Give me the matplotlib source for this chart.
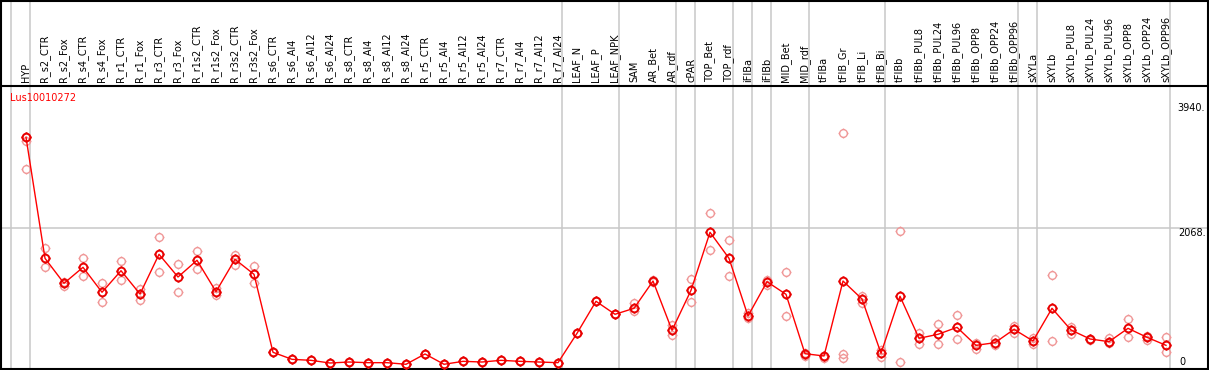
import numpy as np
import matplotlib
matplotlib.use("Agg")
import matplotlib.pyplot as plt
from matplotlib.path import Path

labels = ["HYP", "R_s2_CTR", "R_s2_Fox", "R_s4_CTR", "R_s4_Fox", "R_r1_CTR", "R_r1_Fox",
          "R_r3_CTR", "R_r3_Fox", "R_r1s2_CTR", "R_r1s2_Fox", "R_r3s2_CTR", "R_r3s2_Fox",
          "R_s6_CTR", "R_s6_Al4", "R_s6_Al12", "R_s6_Al24", "R_s8_CTR", "R_s8_Al4",
          "R_s8_Al12", "R_s8_Al24", "R_r5_CTR", "R_r5_Al4", "R_r5_Al12", "R_r5_Al24",
          "R_r7_CTR", "R_r7_Al4", "R_r7_Al12", "R_r7_Al24", "LEAF_N", "LEAF_P", "LEAF_NPK",
          "SAM", "AR_Bet", "AR_rdf", "cPAR", "TOP_Bet", "TOP_rdf", "iFIBa", "iFIBb",
          "MID_Bet", "MID_rdf", "tFIBa", "tFIB_Gr", "tFIB_Li", "tFIB_Bi", "tFIBb",
          "tFIBb_PUL8", "tFIBb_PUL24", "tFIBb_PUL96", "tFIBb_OPP8", "tFIBb_OPP24",
          "tFIBb_OPP96", "sXYLa", "sXYLb", "sXYLb_PUL8", "sXYLb_PUL24", "sXYLb_PUL96",
          "sXYLb_OPP8", "sXYLb_OPP24", "sXYLb_OPP96"]

mean = [3427, 1619, 1246, 1485, 1112, 1434, 1086, 1679, 1340, 1590, 1121, 1604, 1380,
        215, 110, 95, 55, 70, 60, 60, 36, 190, 36, 80, 70, 95, 80, 70, 60,
        499, 977, 783, 872, 1280, 544, 1141, 2008, 1619, 757, 1270, 1081, 194, 160,
        1280, 1011, 200, 1052, 424, 484, 588, 319, 359, 558, 384, 872, 548, 414, 374,
        573, 439, 319]

rep_a = [3427, 1769, 1260, 1619, 1246, 1575, 1161, 1933, 1539, 1729, 1180, 1669, 1504,
         215, 110, 95, 55, 70, 60, 60, 36, 190, 36, 80, 70, 95, 80, 70, 60,
         499, 977, 783, 956, 1290, 623, 1306, 2292, 1888, 807, 1295, 1410, 200, 160,
         3491, 1056, 249, 2023, 508, 633, 768, 359, 414, 613, 424, 1370, 598, 414, 424,
         708, 459, 444]
rep_b = [3376, 1489, 1210, 1355, 971, 1291, 997, 1419, 1112, 1455, 1071, 1519, 1255,
         215, 110, 95, 55, 70, 60, 60, 36, 190, 36, 80, 70, 95, 80, 70, 60,
         499, 977, 783, 837, 1270, 474, 962, 1739, 1350, 723, 1221, 757, 160, 135,
         194, 947, 150, 75, 344, 334, 414, 269, 324, 499, 334, 384, 484, 400, 349,
         448, 399, 215]
rep_c = [2954, None, None, None, None, None, None, None, None, None, None, None, None,
         None, None, None, None, None, None, None, None, None, None, None, None,
         None, None, None, None, None, None, None, None, None, None, None, None, None,
         None, None, None, None, None, 125, None, None, None, None, None, None, None,
         None, None, None, None, None, None, None, None, None, None]

group_ends = [-1, 0, 28, 31, 34, 35, 37, 38, 39, 41, 45, 52, 53, 60]

# circle with small ticks, like the original browser glyph
circ = Path.unit_circle()
ticks = Path([(0, 1), (0, 1.3), (0, -1), (0, -1.3), (1, 0), (1.3, 0), (-1, 0), (-1.3, 0)],
             [Path.MOVETO, Path.LINETO] * 4)
glyph = Path.make_compound_path(circ, ticks)

W, H = 1209, 370
fig = plt.figure(figsize=(W / 100, H / 100), dpi=100)
ax = fig.add_axes([1 / W, 1.5 / H, 1207 / W, 368 / H])
ax.set_xlim(-1.316, 62.21)
ax.set_ylim(-27, 5471)
ax.set_xticks([])
ax.set_yticks([])
for s in ax.spines.values():
    s.set_linewidth(1.5)
    s.set_color("black")

x = np.arange(len(labels))
for k in group_ends:
    ax.axvline(k + 0.21, color="#c8c8c8", lw=1.1, zorder=1)
ax.axhline(2068, color="#c8c8c8", lw=1.1, zorder=1)
ax.axhline(4198, color="black", lw=1.5, zorder=2)

reps = [rep_a, rep_b, rep_c]
for r in reps:
    vals = np.array([np.nan if v is None else v for v in r], dtype=float)
    ax.plot(x, vals, ls="none", marker=glyph, ms=7.2, mfc="none", mec="#f09898", mew=1.0, zorder=3)
ax.plot(x, mean, color="red", lw=1, marker=glyph, ms=7.2, mfc="none", mec="#e80000", mew=1.4, zorder=4)

for i, lab in enumerate(labels):
    ax.text(i, 4258, lab, rotation=90, ha="center", va="bottom", fontsize=7, color="black")

ax.text(-0.84, 3974, "Lus10010272", color="red", fontsize=7, va="baseline", ha="left")
ax.text(60.6, 3820, "3940.", fontsize=7, va="baseline", ha="left")
ax.text(60.65, 1952, "2068.", fontsize=7, va="baseline", ha="left")
ax.text(60.7, 21, "0", fontsize=7, va="baseline", ha="left")

fig.savefig("out.png", dpi=100)
